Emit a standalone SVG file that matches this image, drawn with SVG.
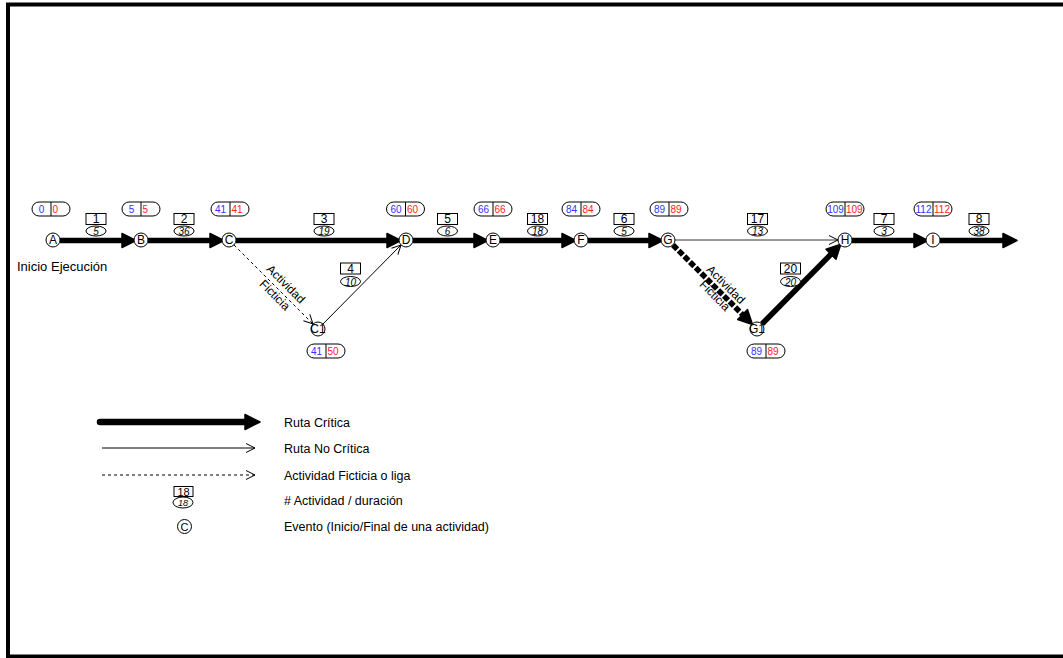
<svg xmlns="http://www.w3.org/2000/svg" width="1063" height="658" viewBox="0 0 1063 658">
<style>
text{font-family:"Liberation Sans",Arial,sans-serif;fill:#000}
.node circle{fill:#fff;stroke:#000;stroke-width:1}
.nl{font-size:12px;text-anchor:middle}
.pill rect{fill:#fff;stroke:#000;stroke-width:1}
.pill line{stroke:#000;stroke-width:1}
.es{font-size:10px;fill:#3333ff;text-anchor:middle}
.ls{font-size:10px;fill:#ff2222;text-anchor:start}
.act rect{fill:#fff;stroke:#000;stroke-width:1}
.act ellipse{fill:#fff;stroke:#000;stroke-width:1}
.an{font-size:12px;text-anchor:middle}
.ad{font-size:10px;font-style:italic;text-anchor:middle}
.crit{stroke:#000;stroke-width:5.5;fill:none}
.thin{stroke:#000;stroke-width:1;fill:none}
.dash{stroke:#000;stroke-width:1;fill:none;stroke-dasharray:3,3}
.critdash{stroke:#000;stroke-width:5.5;fill:none;stroke-dasharray:6,2}
.lt{font-size:12.5px}
.fic{font-size:12px;text-anchor:middle}
</style>
<defs>
<marker id="ah" markerUnits="userSpaceOnUse" markerWidth="30" markerHeight="30" refX="0" refY="0" orient="auto" overflow="visible">
<path d="M-2,-7 L12,0 L-2,7 Z" fill="#000" stroke="#000" stroke-width="1.5" stroke-linejoin="round" stroke-dasharray="none"/>
</marker>
<marker id="oa" markerUnits="userSpaceOnUse" markerWidth="20" markerHeight="20" refX="0" refY="0" orient="auto" overflow="visible">
<path d="M-9,-4.5 L0,0 L-9,4.5" fill="none" stroke="#000" stroke-width="1" stroke-dasharray="none"/>
</marker>
</defs>
<rect x="0" y="0" width="1063" height="658" fill="#fff"/>
<rect x="8" y="4.5" width="1065" height="652" fill="none" stroke="#000" stroke-width="4"/>

<g id="connectors">
<path class="crit" d="M60,240.5 H124" marker-end="url(#ah)"/>
<path class="crit" d="M148,240.5 H212" marker-end="url(#ah)"/>
<path class="crit" d="M236,240.5 H389" marker-end="url(#ah)"/>
<path class="crit" d="M413,240.5 H476" marker-end="url(#ah)"/>
<path class="crit" d="M500,240.5 H564" marker-end="url(#ah)"/>
<path class="crit" d="M588,240.5 H651" marker-end="url(#ah)"/>
<path d="M675,240 H838" fill="none" stroke="#333" stroke-width="1" marker-end="url(#oa)"/>
<path class="crit" d="M852,240.5 H916" marker-end="url(#ah)"/>
<path class="crit" d="M940,240.5 H1005" marker-end="url(#ah)"/>
<path class="dash" d="M234,245 L313,324" marker-end="url(#oa)"/>
<path class="thin" d="M323,324 L401,245" marker-end="url(#oa)"/>
<path class="critdash" d="M673,245 L744,316" marker-end="url(#ah)"/>
<path class="crit" d="M762,324 L832.4,252.8" marker-end="url(#ah)"/>
<text class="fic" transform="translate(280.5,289.5) rotate(45)"><tspan x="0" y="-3.5">Actividad</tspan><tspan x="0" y="12">Ficticia</tspan></text>
<text class="fic" transform="translate(720.5,290) rotate(45)"><tspan x="0" y="-3.5">Actividad</tspan><tspan x="0" y="12">Ficticia</tspan></text>
</g>

<g id="node-A" class="node"><circle cx="53" cy="240" r="7"/><text class="nl" x="53" y="244.3">A</text></g>
<g id="node-B" class="node"><circle cx="141" cy="240" r="7"/><text class="nl" x="141" y="244.3">B</text></g>
<g id="node-C" class="node"><circle cx="229" cy="240" r="7"/><text class="nl" x="229" y="244.3">C</text></g>
<g id="node-D" class="node"><circle cx="406" cy="240" r="7"/><text class="nl" x="406" y="244.3">D</text></g>
<g id="node-E" class="node"><circle cx="493" cy="240" r="7"/><text class="nl" x="493" y="244.3">E</text></g>
<g id="node-F" class="node"><circle cx="581" cy="240" r="7"/><text class="nl" x="581" y="244.3">F</text></g>
<g id="node-G" class="node"><circle cx="668" cy="240" r="7"/><text class="nl" x="668" y="244.3">G</text></g>
<g id="node-H" class="node"><circle cx="845" cy="240" r="7"/><text class="nl" x="845" y="244.3">H</text></g>
<g id="node-I" class="node"><circle cx="933" cy="240" r="7"/><text class="nl" x="933" y="244.3">I</text></g>
<g id="node-C1" class="node"><circle cx="318" cy="329" r="7"/><text class="nl" x="318" y="333.3">C1</text></g>
<g id="node-G1" class="node"><circle cx="757" cy="329" r="7"/><text class="nl" x="757" y="333.3">G1</text></g>

<g id="times">
<g class="pill"><rect x="32" y="202" width="38" height="14" rx="7"/><line x1="51" y1="202" x2="51" y2="216"/><text class="es" x="41.5" y="212.7">0</text><text class="ls" x="52.5" y="212.7">0</text></g>
<g class="pill"><rect x="122" y="202" width="38" height="14" rx="7"/><line x1="141" y1="202" x2="141" y2="216"/><text class="es" x="131.5" y="212.7">5</text><text class="ls" x="142.5" y="212.7">5</text></g>
<g class="pill"><rect x="211" y="202" width="38" height="14" rx="7"/><line x1="230" y1="202" x2="230" y2="216"/><text class="es" x="220.5" y="212.7">41</text><text class="ls" x="231.5" y="212.7">41</text></g>
<g class="pill"><rect x="386.5" y="202" width="38" height="14" rx="7"/><line x1="405.5" y1="202" x2="405.5" y2="216"/><text class="es" x="396" y="212.7">60</text><text class="ls" x="407" y="212.7">60</text></g>
<g class="pill"><rect x="474" y="202" width="38" height="14" rx="7"/><line x1="493" y1="202" x2="493" y2="216"/><text class="es" x="483.5" y="212.7">66</text><text class="ls" x="494.5" y="212.7">66</text></g>
<g class="pill"><rect x="562" y="202" width="38" height="14" rx="7"/><line x1="581" y1="202" x2="581" y2="216"/><text class="es" x="571.5" y="212.7">84</text><text class="ls" x="582.5" y="212.7">84</text></g>
<g class="pill"><rect x="650" y="202" width="38" height="14" rx="7"/><line x1="669" y1="202" x2="669" y2="216"/><text class="es" x="659.5" y="212.7">89</text><text class="ls" x="670.5" y="212.7">89</text></g>
<g class="pill"><rect x="826" y="202" width="38" height="14" rx="7"/><line x1="845" y1="202" x2="845" y2="216"/><text class="es" x="835.5" y="212.7">109</text><text class="ls" x="846" y="212.7">109</text></g>
<g class="pill"><rect x="914" y="202" width="38" height="14" rx="7"/><line x1="933" y1="202" x2="933" y2="216"/><text class="es" x="923.5" y="212.7">112</text><text class="ls" x="934" y="212.7">112</text></g>
<g class="pill"><rect x="307" y="344" width="38" height="14" rx="7"/><line x1="326" y1="344" x2="326" y2="358"/><text class="es" x="316.5" y="354.7">41</text><text class="ls" x="327.5" y="354.7">50</text></g>
<g class="pill"><rect x="747" y="344" width="38" height="14" rx="7"/><line x1="766" y1="344" x2="766" y2="358"/><text class="es" x="756.5" y="354.7">89</text><text class="ls" x="767.5" y="354.7">89</text></g>
</g>

<g id="activities">
<g class="act"><rect x="86" y="213.5" width="20" height="11"/><text class="an" x="96" y="223.3">1</text><ellipse cx="96" cy="231" rx="10" ry="5"/><text class="ad" x="96" y="235">5</text></g>
<g class="act"><rect x="174" y="213.5" width="20" height="11"/><text class="an" x="184" y="223.3">2</text><ellipse cx="184" cy="231" rx="10" ry="5"/><text class="ad" x="184" y="235">36</text></g>
<g class="act"><rect x="314" y="213.5" width="20" height="11"/><text class="an" x="324" y="223.3">3</text><ellipse cx="324" cy="231" rx="10" ry="5"/><text class="ad" x="324" y="235">19</text></g>
<g class="act"><rect x="340.5" y="263" width="20" height="11"/><text class="an" x="350.5" y="272.8">4</text><ellipse cx="350.5" cy="281.5" rx="10" ry="5"/><text class="ad" x="350.5" y="285.5">10</text></g>
<g class="act"><rect x="437.5" y="213.5" width="20" height="11"/><text class="an" x="447.5" y="223.3">5</text><ellipse cx="447.5" cy="231" rx="10" ry="5"/><text class="ad" x="447.5" y="235">6</text></g>
<g class="act"><rect x="527.5" y="213.5" width="20" height="11"/><text class="an" x="537.5" y="223.3">18</text><ellipse cx="537.5" cy="231" rx="10" ry="5"/><text class="ad" x="537.5" y="235">18</text></g>
<g class="act"><rect x="614" y="213.5" width="20" height="11"/><text class="an" x="624" y="223.3">6</text><ellipse cx="624" cy="231" rx="10" ry="5"/><text class="ad" x="624" y="235">5</text></g>
<g class="act"><rect x="747.5" y="213.5" width="20" height="11"/><text class="an" x="757.5" y="223.3">17</text><ellipse cx="757.5" cy="231" rx="10" ry="5"/><text class="ad" x="757.5" y="235">13</text></g>
<g class="act"><rect x="780.5" y="263" width="20" height="11"/><text class="an" x="790.5" y="272.8">20</text><ellipse cx="790.5" cy="281.5" rx="10" ry="5"/><text class="ad" x="790.5" y="285.5">20</text></g>
<g class="act"><rect x="874" y="213.5" width="20" height="11"/><text class="an" x="884" y="223.3">7</text><ellipse cx="884" cy="231" rx="10" ry="5"/><text class="ad" x="884" y="235">3</text></g>
<g class="act"><rect x="969" y="213.5" width="20" height="11"/><text class="an" x="979" y="223.3">8</text><ellipse cx="979" cy="231" rx="10" ry="5"/><text class="ad" x="979" y="235">38</text></g>
</g>

<text id="start-label" x="17" y="271" font-size="13px">Inicio Ejecución</text>

<g id="legend">
<path d="M100,422 H246" stroke="#000" stroke-width="6.5" stroke-linecap="round" fill="none"/>
<path d="M245,414.5 L260,422 L245,429.5 Z" fill="#000" stroke="#000" stroke-width="1.5" stroke-linejoin="round"/>
<text class="lt" x="284" y="426.5">Ruta Crítica</text>
<path class="thin" d="M102,448 H255" marker-end="url(#oa)"/>
<text class="lt" x="284" y="452.5">Ruta No Crítica</text>
<path class="dash" d="M102,475 H255" marker-end="url(#oa)"/>
<text class="lt" x="284" y="479.5">Actividad Ficticia o liga</text>
<g class="act"><rect x="174" y="486.5" width="19" height="10"/><text x="183.5" y="495.5" font-size="11px" text-anchor="middle">18</text><ellipse cx="183" cy="502.5" rx="10" ry="5.5"/><text x="183" y="506.2" font-size="9px" font-style="italic" text-anchor="middle">18</text></g>
<text class="lt" x="284" y="504.5">#  Actividad / duración</text>
<circle cx="184.5" cy="526.5" r="7" fill="#fff" stroke="#000" stroke-width="1"/>
<text x="184.5" y="530.5" font-size="11px" text-anchor="middle">C</text>
<text class="lt" x="284" y="530.5">Evento (Inicio/Final de una actividad)</text>
</g>
</svg>
